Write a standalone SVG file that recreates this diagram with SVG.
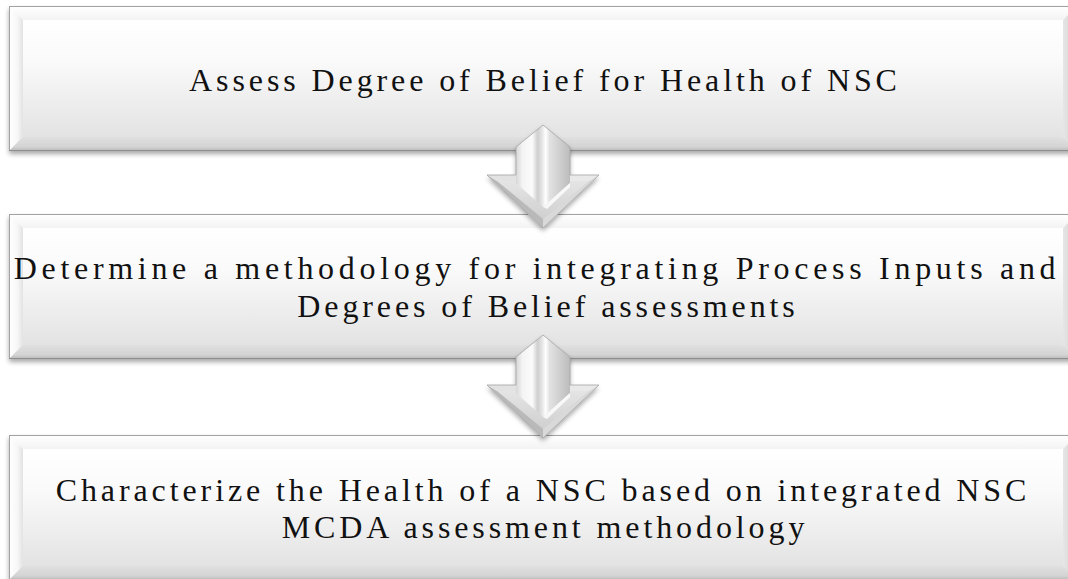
<svg xmlns="http://www.w3.org/2000/svg" xmlns:xlink="http://www.w3.org/1999/xlink" width="1068" height="579" viewBox="0 0 1068 579">
<style>
.lbl{font-family:"Liberation Serif","Times New Roman",serif;font-size:32px;letter-spacing:3.9px;fill:#111;text-anchor:middle}
.wide{letter-spacing:4.7px}
</style>
<defs>
<filter id="sh" x="-5%" y="-20%" width="110%" height="150%">
<feGaussianBlur in="SourceAlpha" stdDeviation="2.5"/>
<feOffset dy="3" result="b"/>
<feComponentTransfer><feFuncA type="linear" slope="0.35"/></feComponentTransfer>
<feMerge><feMergeNode/><feMergeNode in="SourceGraphic"/></feMerge>
</filter>
<linearGradient id="face" x1="0" y1="0" x2="0" y2="1">
<stop offset="0" stop-color="#ffffff"/><stop offset="0.35" stop-color="#fafafa"/><stop offset="1" stop-color="#e3e3e3"/>
</linearGradient>
<linearGradient id="topB" x1="0" y1="0" x2="0" y2="1">
<stop offset="0" stop-color="#ffffff"/><stop offset="1" stop-color="#f3f3f3"/>
</linearGradient>
<linearGradient id="leftB" x1="0" y1="0" x2="1" y2="0">
<stop offset="0" stop-color="#ffffff"/><stop offset="0.6" stop-color="#f7f7f7"/><stop offset="1" stop-color="#e2e2e2"/>
</linearGradient>
<linearGradient id="botB" x1="0" y1="0" x2="0" y2="1">
<stop offset="0" stop-color="#e0e0e0"/><stop offset="0.7" stop-color="#d4d4d4"/><stop offset="1" stop-color="#b8b8b8"/>
</linearGradient>
<linearGradient id="rightB" x1="0" y1="0" x2="1" y2="0">
<stop offset="0" stop-color="#e6e6e6"/><stop offset="1" stop-color="#cfcfcf"/>
</linearGradient>
<linearGradient id="shaft" x1="-27" y1="0" x2="27" y2="0" gradientUnits="userSpaceOnUse">
<stop offset="0" stop-color="#d6d6d6"/><stop offset="0.12" stop-color="#f4f4f4"/><stop offset="0.3" stop-color="#fbfbfb"/><stop offset="0.4" stop-color="#cfcfcf"/><stop offset="0.48" stop-color="#e4e4e4"/><stop offset="0.55" stop-color="#ffffff"/><stop offset="0.62" stop-color="#e2e2e2"/><stop offset="1" stop-color="#bcbcbc"/>
</linearGradient>
<linearGradient id="headIn" x1="0" y1="50" x2="0" y2="100" gradientUnits="userSpaceOnUse">
<stop offset="0" stop-color="#e8e8e8"/><stop offset="1" stop-color="#cccccc"/>
</linearGradient>
<g id="boxShape">
<rect x="9" y="0" width="1068" height="145" fill="url(#face)" filter="url(#sh)"/>
<polygon points="9,0 1077,0 1063,14 23,14" fill="url(#topB)"/>
<polygon points="9,0 23,14 23,131 9,145" fill="url(#leftB)"/>
<polygon points="9,145 23,131 1063,131 1077,145" fill="url(#botB)"/>
<polygon points="1077,0 1063,14 1063,131 1077,145" fill="url(#rightB)"/>
<rect x="23" y="14" width="1040" height="117" fill="url(#face)"/>
<rect x="9.5" y="0.5" width="1067" height="144" fill="none" stroke="#a3a3a3" stroke-width="1"/>
<line x1="9" y1="144.5" x2="1077" y2="144.5" stroke="#8e8e8e" stroke-width="1.2"/>
</g>
<g id="arrowShape">
<polygon points="0,0 27,22 27,50 56,50 0,103 -56,50 -27,50 -27,22" fill="#cfcfcf" filter="url(#sh)"/>
<polygon points="-56,50 56,50 0,103" fill="url(#headIn)"/>
<polygon points="-56,50 -46,56 0,94 0,103" fill="#b9b9b9"/>
<polygon points="56,50 46,56 0,94 0,103" fill="#d9d9d9"/>
<polygon points="-56,50 -27,50 -27,56 -46,56" fill="#e2e2e2"/>
<polygon points="56,50 27,50 27,56 46,56" fill="#e9e9e9"/>
<polygon points="0,0 27,22 27,58 0,82 -27,58 -27,22" fill="url(#shaft)"/>
<polygon points="0,82 27,58 27,62 4,84" fill="#ffffff" opacity="0.8"/>
<polygon points="0,0 27,22 27,50 56,50 0,103 -56,50 -27,50 -27,22" fill="none" stroke="#a6a6a6" stroke-width="0.8"/>
</g>
</defs>

<g id="node1">
<use xlink:href="#boxShape" href="#boxShape" transform="translate(0,6)"/>
<text class="lbl" x="545" y="91">Assess Degree of Belief for Health of NSC</text>
</g>
<g id="node2">
<use xlink:href="#boxShape" href="#boxShape" transform="translate(0,214)"/>
<text class="lbl wide" x="537" y="279">Determine a methodology for integrating Process Inputs and</text>
<text class="lbl" x="548" y="317">Degrees of Belief assessments</text>
</g>
<g id="node3">
<use xlink:href="#boxShape" href="#boxShape" transform="translate(0,435)"/>
<text class="lbl" x="543" y="501">Characterize the Health of a NSC based on integrated NSC</text>
<text class="lbl" x="545" y="538">MCDA assessment methodology</text>
</g>
<g id="connectors">
<use xlink:href="#arrowShape" href="#arrowShape" transform="translate(543,125)"/>
<use xlink:href="#arrowShape" href="#arrowShape" transform="translate(543,335)"/>
</g>
</svg>
